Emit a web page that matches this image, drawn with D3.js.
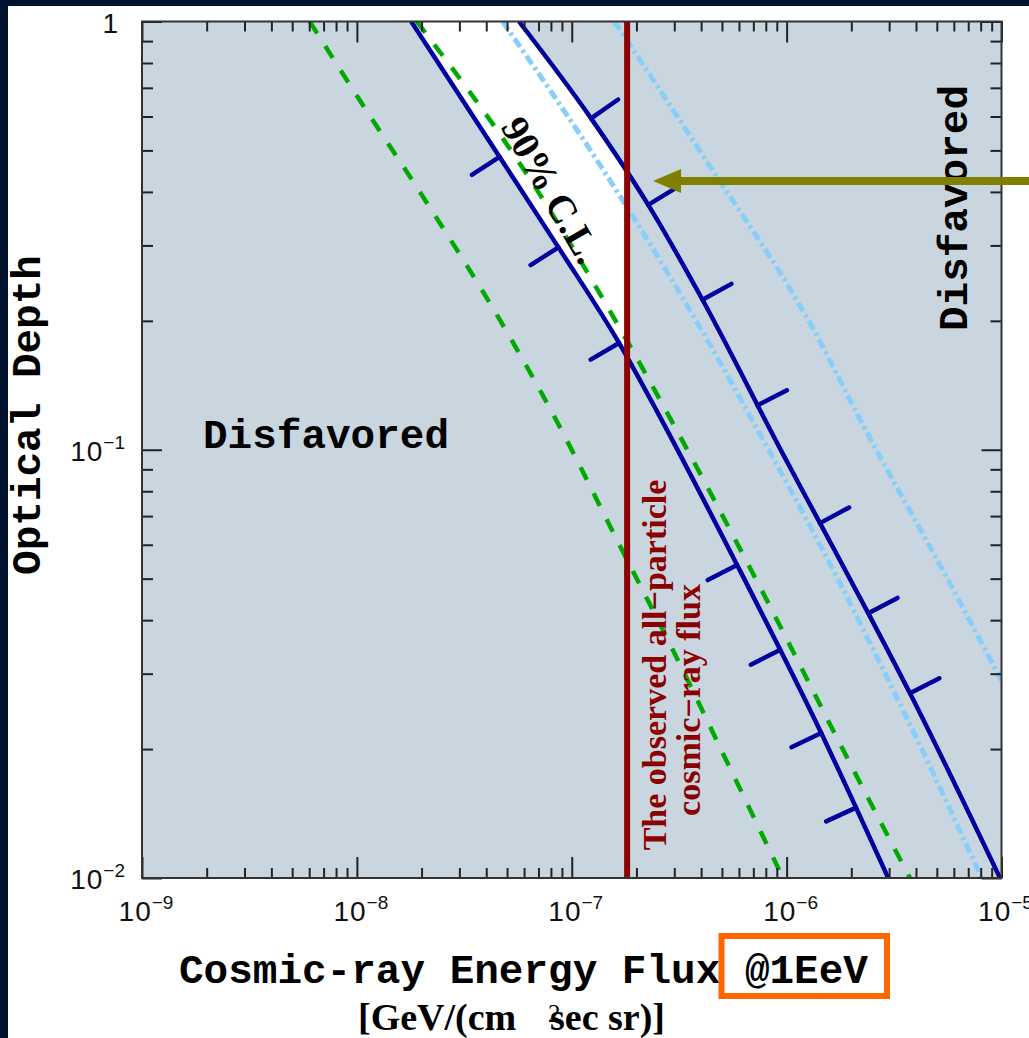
<!DOCTYPE html>
<html>
<head>
<meta charset="utf-8">
<script src="https://cdn.jsdelivr.net/npm/d3@7/dist/d3.min.js"></script>
<style>
  html, body { margin: 0; padding: 0; background: #ffffff; }
  svg { display: block; }
</style>
</head>
<body>
<div id="chart"></div>
<script>
// ---- data: [flux GeV/(cm^2 s sr) at 1 EeV, optical depth] ----
const bandLower = [[1.79e-8, 1.0], [4.49e-8, 0.493], [8.61e-8, 0.2985], [1.68e-7, 0.1758],
                   [2.54e-7, 0.1208], [5.69e-7, 0.0556], [1.43e-6, 0.0221], [2.97e-6, 0.01]];
const bandUpper = [[5.68e-8, 1.0], [1.23e-7, 0.594], [2.27e-7, 0.373], [4.06e-7, 0.224],
                   [9.48e-7, 0.099], [1.43e-6, 0.0674], [2.40e-6, 0.0415], [3.75e-6, 0.027], [9.84e-6, 0.01]];
const greenA = [[6.03e-9, 1.0], [1.13e-8, 0.610], [1.92e-8, 0.407], [5.14e-8, 0.1837], [8.45e-8, 0.1175],
                [1.62e-7, 0.0617], [2.87e-7, 0.0351], [5.65e-7, 0.0174], [9.62e-7, 0.01]];
const greenB = [[1.90e-8, 1.0], [6.00e-8, 0.450], [1.71e-7, 0.1887], [2.95e-7, 0.1155],
                [7.03e-7, 0.0510], [2.08e-6, 0.0176], [3.75e-6, 0.01]];
const skyA = [[4.76e-8, 1.0], [1.41e-7, 0.448], [4.26e-7, 0.181], [7.03e-7, 0.1155],
              [1.71e-6, 0.0505], [2.40e-6, 0.0360], [4.99e-6, 0.0169], [8.07e-6, 0.01]];
const skyB = [[1.58e-7, 1.0], [3.83e-7, 0.510], [1.39e-6, 0.1837], [2.20e-6, 0.1175],
              [5.72e-6, 0.049], [9.51e-6, 0.0303], [1.0e-5, 0.0289]];
const observedFlux = 1.81e-7;
const lowerHatchDepths = [0.483, 0.297, 0.1775, 0.0538, 0.0341, 0.0218, 0.0146];
const upperHatchDepths = [0.594, 0.373, 0.224, 0.127, 0.0674, 0.0415, 0.027];
const arrowTip = [2.39e-7, 0.424];
const xDomain = [1e-9, 1e-5];
const yDomain = [1e-2, 1];
const xTickExps = [-9, -8, -7, -6, -5];
const yTickExps = [0, -1, -2];

// ---- layout ----
const W = 1029, H = 1038;
const L = 142, R = 1001.5, T = 21.5, B = 878;
const BLUE = "#0000a0", GREEN = "#00aa00", SKY = "#87cefa", RED = "#8b0000";

const svg = d3.select("#chart").append("svg").attr("width", W).attr("height", H);

// page frame strips
svg.append("rect").attr("x", 0).attr("y", 0).attr("width", W).attr("height", 6).attr("fill", "#00142f");
svg.append("rect").attr("x", 0).attr("y", 0).attr("width", 8).attr("height", H).attr("fill", "#00142f");

const x = d3.scaleLog().domain(xDomain).range([L, R]);
const y = d3.scaleLog().domain(yDomain).range([B, T]);

const defs = svg.append("defs");
defs.append("clipPath").attr("id", "plotClip")
  .append("rect").attr("x", L).attr("y", T).attr("width", R - L).attr("height", B - T);

// plot background
svg.append("rect").attr("x", L).attr("y", T).attr("width", R - L).attr("height", B - T)
  .attr("fill", "#c9d6df");

const line = d3.line().x(d => x(d[0])).y(d => y(d[1])).curve(d3.curveMonotoneX);

// allowed band (between the two limits, below the observed flux)
defs.append("clipPath").attr("id", "rightOfLower")
  .append("path").attr("d", line(bandLower) + `L${R + 5},${B + 5}L${R + 5},${T - 5}L${x(bandLower[0][0])},${T - 5}Z`);
defs.append("clipPath").attr("id", "leftOfUpper")
  .append("path").attr("d", line(bandUpper) + `L${L - 5},${B + 5}L${L - 5},${T - 5}L${x(bandUpper[0][0])},${T - 5}Z`);

svg.append("g").attr("clip-path", "url(#leftOfUpper)")
  .append("g").attr("clip-path", "url(#rightOfLower)")
  .append("rect").attr("x", L).attr("y", T).attr("width", x(observedFlux) - L).attr("height", B - T)
  .attr("fill", "#ffffff");

const plot = svg.append("g").attr("clip-path", "url(#plotClip)");

// "90% C.L." label inside the band
svg.append("text")
  .attr("transform", "translate(552,190) rotate(60)")
  .attr("text-anchor", "middle").attr("dominant-baseline", "central")
  .attr("font-family", "Liberation Serif, Times New Roman, serif").attr("font-weight", "bold")
  .attr("font-size", 39).attr("fill", "#000")
  .text("90% C.L.");

// dashed and dash-dot companion curves
[greenA, greenB].forEach(s => plot.append("path").attr("d", line(s)).attr("fill", "none")
  .attr("stroke", GREEN).attr("stroke-width", 4.5).attr("stroke-dasharray", "14,15"));
[skyA, skyB].forEach(s => plot.append("path").attr("d", line(s)).attr("fill", "none")
  .attr("stroke", SKY).attr("stroke-width", 5).attr("stroke-dasharray", "10,4,3,4"));

// limit curves with hatches toward the disfavored side
function limitCurve(series, depths, side) {
  const p = plot.append("path").attr("d", line(series)).attr("fill", "none")
    .attr("stroke", BLUE).attr("stroke-width", 4.5);
  const node = p.node();
  const total = node.getTotalLength();
  depths.forEach(dv => {
    const ty = y(dv);
    let lo = 0, hi = total;
    for (let i = 0; i < 40; i++) {
      const mid = (lo + hi) / 2;
      if (node.getPointAtLength(mid).y < ty) lo = mid; else hi = mid;
    }
    const s = (lo + hi) / 2;
    const pt = node.getPointAtLength(s);
    const a = node.getPointAtLength(Math.max(0, s - 2));
    const b = node.getPointAtLength(Math.min(total, s + 2));
    const dx = b.x - a.x, dy = b.y - a.y, n = Math.hypot(dx, dy);
    const len = 33;
    const nx = side < 0 ? -dy / n : dy / n;
    const ny = side < 0 ? dx / n : -dx / n;
    plot.append("line").attr("x1", pt.x).attr("y1", pt.y)
      .attr("x2", pt.x + nx * len).attr("y2", pt.y + ny * len)
      .attr("stroke", BLUE).attr("stroke-width", 4.5).attr("stroke-linecap", "round");
  });
}
limitCurve(bandLower, lowerHatchDepths, -1);
limitCurve(bandUpper, upperHatchDepths, 1);

// observed all-particle flux
plot.append("line").attr("x1", x(observedFlux)).attr("x2", x(observedFlux))
  .attr("y1", T).attr("y2", B).attr("stroke", RED).attr("stroke-width", 6);

// ---- axes ----
const decades = d3.range(xTickExps[0], xTickExps[xTickExps.length - 1] + 1).map(e => Math.pow(10, e));
const xMinor = x.ticks().filter(v => !decades.some(d => Math.abs(v / d - 1) < 1e-6));
const yDecades = yTickExps.map(e => Math.pow(10, e));
const yMinor = y.ticks().filter(v => !yDecades.some(d => Math.abs(v / d - 1) < 1e-6));

function styleAxis(g) {
  g.select(".domain").remove();
  g.selectAll("line").attr("stroke", "#222").attr("stroke-width", 2);
  g.selectAll("text").remove();
}
svg.append("g").attr("transform", `translate(0,${B})`)
  .call(d3.axisBottom(x).tickValues(decades).tickSizeInner(-21).tickSizeOuter(0)).call(styleAxis);
svg.append("g").attr("transform", `translate(0,${B})`)
  .call(d3.axisBottom(x).tickValues(xMinor).tickSizeInner(-10).tickSizeOuter(0)).call(styleAxis);
svg.append("g").attr("transform", `translate(0,${T})`)
  .call(d3.axisTop(x).tickValues(decades).tickSizeInner(-21).tickSizeOuter(0)).call(styleAxis);
svg.append("g").attr("transform", `translate(0,${T})`)
  .call(d3.axisTop(x).tickValues(xMinor).tickSizeInner(-10).tickSizeOuter(0)).call(styleAxis);
svg.append("g").attr("transform", `translate(${L},0)`)
  .call(d3.axisLeft(y).tickValues(yDecades).tickSizeInner(-20).tickSizeOuter(0)).call(styleAxis);
svg.append("g").attr("transform", `translate(${L},0)`)
  .call(d3.axisLeft(y).tickValues(yMinor).tickSizeInner(-11).tickSizeOuter(0)).call(styleAxis);
svg.append("g").attr("transform", `translate(${R},0)`)
  .call(d3.axisRight(y).tickValues(yDecades).tickSizeInner(-20).tickSizeOuter(0)).call(styleAxis);
svg.append("g").attr("transform", `translate(${R},0)`)
  .call(d3.axisRight(y).tickValues(yMinor).tickSizeInner(-11).tickSizeOuter(0)).call(styleAxis);

// frame
svg.append("rect").attr("x", L).attr("y", T).attr("width", R - L).attr("height", B - T)
  .attr("fill", "none").attr("stroke", "#333").attr("stroke-width", 2);

// tick labels
const tickFont = "Liberation Sans, Arial, sans-serif";
function powerLabel(xp, yp, exp, anchor) {
  const t = svg.append("text").attr("x", xp).attr("y", yp).attr("text-anchor", anchor)
    .attr("font-family", tickFont).attr("font-size", 28).attr("fill", "#111")
    .attr("letter-spacing", 1);
  if (exp === 0) { t.text("1"); return; }
  t.append("tspan").text("10");
  t.append("tspan").attr("dy", -12).attr("font-size", 19).attr("letter-spacing", 0)
    .text("\u2212" + Math.abs(exp));
}
xTickExps.forEach(e => powerLabel(x(Math.pow(10, e)) + 4, 921, e, "middle"));
yTickExps.forEach(e => powerLabel(e === 0 ? 119 : 125, y(Math.pow(10, e)) + 11, e, "end"));

// axis titles
const mono = "Liberation Mono, Courier New, monospace";
const serif = "Liberation Serif, Times New Roman, serif";
svg.append("text").attr("x", 179).attr("y", 983)
  .attr("font-family", mono).attr("font-weight", "bold").attr("font-size", 41).attr("fill", "#000")
  .text("Cosmic-ray Energy Flux @1EeV");
const unit = svg.append("text").attr("y", 1030)
  .attr("font-family", serif).attr("font-weight", "bold").attr("font-size", 38).attr("fill", "#000");
unit.append("tspan").attr("x", 358).text("[GeV/(cm");
unit.append("tspan").attr("x", 550).text("sec sr)]");
svg.append("text").attr("x", 548).attr("y", 1022)
  .attr("font-family", serif).attr("font-size", 25).attr("fill", "#000")
  .text("2");

svg.append("text").attr("transform", "translate(40,415) rotate(-90)").attr("text-anchor", "middle")
  .attr("font-family", mono).attr("font-weight", "bold").attr("font-size", 41).attr("fill", "#000")
  .text("Optical Depth");

// region labels
svg.append("text").attr("x", 203).attr("y", 448)
  .attr("font-family", mono).attr("font-weight", "bold").attr("font-size", 41).attr("fill", "#000")
  .text("Disfavored");
svg.append("text").attr("transform", "translate(967,208) rotate(-90)").attr("text-anchor", "middle")
  .attr("font-family", mono).attr("font-weight", "bold").attr("font-size", 41).attr("fill", "#000")
  .text("Disfavored");

// observed flux label
svg.append("text").attr("transform", "translate(666,665) rotate(-90)").attr("text-anchor", "middle")
  .attr("font-family", serif).attr("font-weight", "bold").attr("font-size", 34).attr("fill", RED)
  .text("The observed all\u2212particle");
svg.append("text").attr("transform", "translate(700,700) rotate(-90)").attr("text-anchor", "middle")
  .attr("font-family", serif).attr("font-weight", "bold").attr("font-size", 34).attr("fill", RED)
  .text("cosmic\u2212ray flux");

// highlight box around the energy reference
svg.append("rect").attr("x", 721.5).attr("y", 936).attr("width", 165.5).attr("height", 60)
  .attr("fill", "none").attr("stroke", "#ff6600").attr("stroke-width", 6);

// pointer arrow toward the band edge at the observed flux
const tipX = x(arrowTip[0]), tipY = y(arrowTip[1]);
svg.append("line").attr("x1", tipX + 24).attr("y1", tipY).attr("x2", W + 2).attr("y2", tipY)
  .attr("stroke", "#808000").attr("stroke-width", 8);
svg.append("path")
  .attr("d", `M${tipX},${tipY}L${tipX + 28},${tipY - 12}L${tipX + 28},${tipY + 12}Z`)
  .attr("fill", "#808000");
</script>
</body>
</html>
